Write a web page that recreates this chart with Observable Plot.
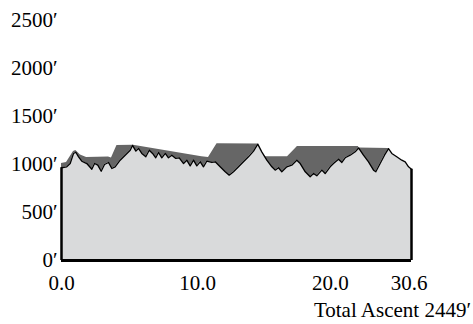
<!DOCTYPE html>
<html>
<head>
<meta charset="utf-8">
<script src="https://cdn.jsdelivr.net/npm/d3@7"></script>
<script src="https://cdn.jsdelivr.net/npm/@observablehq/plot@0.6"></script>
<style>
  html, body { margin: 0; padding: 0; background: white; }
  #chart svg { display: block; }
  #caption {
    width: 473px; box-sizing: border-box; padding-right: 2px;
    text-align: right; font-family: "Liberation Serif", "Times New Roman", serif;
    font-size: 21px; line-height: 24px; margin-top: 2px; color: black;
  }
</style>
</head>
<body>
<div id="chart"></div>
<div id="caption"></div>
<script>
// Elevation profile (miles, feet)
const distance = [0, 0.46, 0.76, 1.05, 1.25, 1.49, 1.77, 2.21, 2.65, 2.89, 3.17, 3.47, 3.76, 4.11, 4.40, 4.69, 5.13, 5.57, 6.01, 6.21, 6.50, 6.73, 7.02, 7.37, 7.67, 7.96, 8.24, 8.48, 8.77, 9.07, 9.35, 9.64, 9.99, 10.29, 10.67, 10.95, 11.25, 11.54, 11.83, 12.13, 12.41, 12.70, 13.14, 13.44, 13.87, 14.31, 14.66, 15.04, 15.48, 15.91, 16.35, 16.79, 17.16, 17.51, 17.95, 18.39, 18.68, 18.97, 19.26, 19.70, 20.13, 20.57, 20.87, 21.31, 21.74, 22.03, 22.32, 22.76, 23.05, 23.49, 23.78, 24.22, 24.51, 24.80, 25.24, 25.68, 25.97, 26.40, 26.84, 27.28, 27.48, 27.86, 28.24, 28.59, 28.88, 29.31, 29.75, 30.05, 30.34, 30.6];
const elevation = [966, 976, 1010, 1115, 1128, 1080, 1034, 1010, 950, 1010, 993, 930, 1000, 1021, 958, 976, 1045, 1097, 1149, 1199, 1139, 1167, 1115, 1080, 1149, 1115, 1070, 1125, 1070, 1115, 1070, 1097, 1063, 1070, 1010, 1045, 986, 1045, 986, 1028, 976, 1034, 1021, 1028, 976, 924, 889, 924, 976, 1028, 1080, 1139, 1212, 1132, 1045, 976, 941, 966, 924, 976, 993, 1045, 1010, 924, 872, 906, 882, 941, 906, 976, 1010, 1055, 1021, 1070, 1097, 1132, 1172, 1097, 1028, 941, 924, 1010, 1097, 1165, 1115, 1080, 1045, 1028, 976, 951];

// Upper envelope drawn behind the profile (dark shading)
const envDistance = [0, 0.44, 1.05, 1.25, 1.66, 2.19, 4.11, 4.37, 4.85, 6.29, 12.27, 12.85, 13.60, 17.16, 17.51, 17.84, 19.76, 20.63, 25.97, 25.99, 28.59, 28.94, 30.6];
const envElevation = [1010, 1021, 1135, 1146, 1099, 1073, 1078, 1068, 1198, 1201, 1080, 1073, 1216, 1214, 1125, 1080, 1080, 1188, 1188, 1172, 1167, 1104, 938];

const yTicks = [0, 500, 1000, 1500, 2000, 2500];
const xTickAt = [0, 11.9, 23.5, 30.4];
const xTickLabels = ["0.0", "10.0", "20.0", "30.6"];
const totalAscent = 2449;

const profile = distance.map((d, i) => ({d, e: elevation[i]}));
const envelope = envDistance.map((d, i) => ({d, e: envElevation[i]}));
const ends = [profile[0], profile[profile.length - 1]];
const xLabel = new Map(xTickAt.map((v, i) => [v, xTickLabels[i]]));

const chart = Plot.plot({
  width: 473,
  height: 296,
  marginTop: 20,
  marginBottom: 36,
  marginLeft: 61,
  marginRight: 62,
  style: {fontFamily: '"Liberation Serif", "Times New Roman", serif', fontSize: "21px", background: "white", color: "black"},
  x: {domain: [0, 30.6], label: null},
  y: {domain: [0, 2500], label: null},
  marks: [
    Plot.areaY(envelope, {x: "d", y: "e", fill: "#666666"}),
    Plot.areaY(profile, {x: "d", y: "e", fill: "#d9dadb"}),
    Plot.line(profile, {x: "d", y: "e", stroke: "black", strokeWidth: 1.3}),
    Plot.ruleX(ends, {x: "d", y1: 0, y2: "e", stroke: "black", strokeWidth: 2.5}),
    Plot.ruleY([0], {stroke: "black", strokeWidth: 3}),
    Plot.axisY({ticks: yTicks, tickFormat: d => `${d}′`, tickSize: 0, tickPadding: 4, fontSize: 21, label: null}),
    Plot.axisX({ticks: xTickAt, tickFormat: d => xLabel.get(d), tickSize: 0, tickPadding: 15, fontSize: 21, label: null})
  ]
});
document.getElementById("chart").append(chart);
document.getElementById("caption").textContent = `Total Ascent ${totalAscent}′`;
</script>
</body>
</html>
